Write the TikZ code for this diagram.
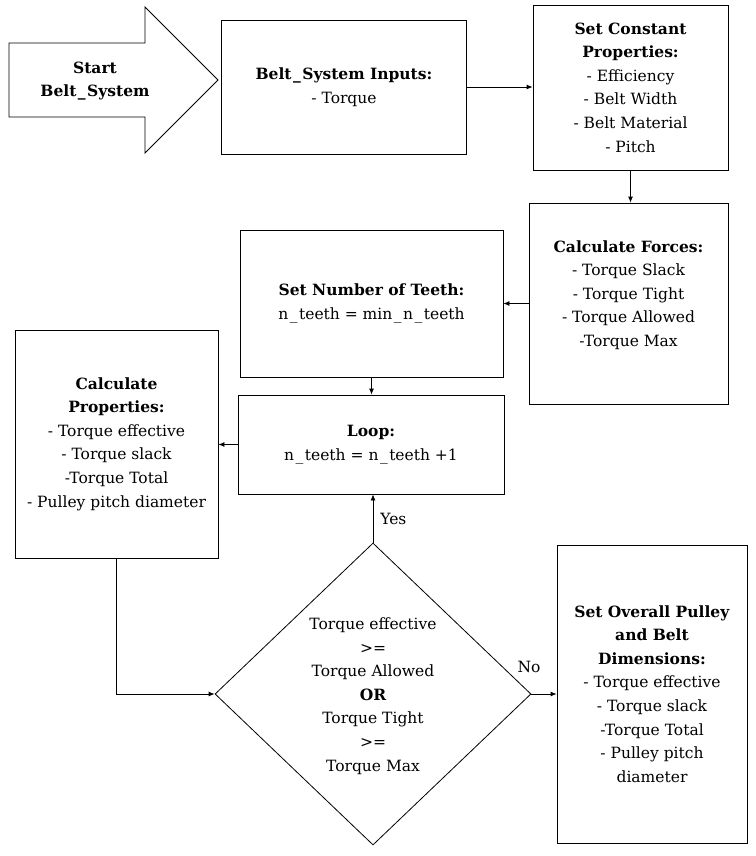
\documentclass[tikz,border=0pt]{standalone}
\usepackage{fontspec}
\setmainfont{DejaVu Serif}
\usetikzlibrary{arrows.meta,shapes.geometric}
\newcommand{\us}{\kern1.5pt\_\kern1.5pt}
\begin{document}
\begin{tikzpicture}[x=1pt,y=-1pt,
  box/.style={draw, line width=0.8pt, inner sep=0pt, align=center, font=\fontsize{15.5}{23.6}\selectfont},
  txt/.style={align=center, inner sep=0pt, font=\fontsize{15.5}{23.6}\selectfont},
  arr/.style={-{Latex[length=6pt,width=5pt]}, line width=0.8pt}]
\useasboundingbox (0,0) rectangle (755,856);
% start arrow
\draw[line width=0.8pt] (9,43) -- (145,43) -- (145,7) -- (218,80) -- (145,153) -- (145,117) -- (9,117) -- cycle;
\node[txt] (start) at (95,81) {\textbf{Start}\\\textbf{Belt\us System}};
% boxes
\node[box, minimum width=245pt, minimum height=134pt] (inputs) at (344,87) {\textbf{Belt\us System Inputs:}\\- Torque};
\node[box, minimum width=195pt, minimum height=165pt] (const) at (630.5,87.5) {\textbf{Set Constant}\\\textbf{Properties:}\\- Efficiency\\- Belt Width\\- Belt Material\\- Pitch};
\node[box, minimum width=199pt, minimum height=201pt] (forces) at (628.5,303.5) {\textbf{Calculate Forces:}\\- Torque Slack\\- Torque Tight\\- Torque Allowed\\-Torque Max\rule[-20pt]{0pt}{20pt}};
\node[box, minimum width=263pt, minimum height=147pt] (teeth) at (371.5,303.5) {\textbf{Set Number of Teeth:}\\n\us teeth = min\us n\us teeth};
\node[box, minimum width=266pt, minimum height=99pt] (loop) at (371,444.5) {\textbf{Loop:}\\n\us teeth = n\us teeth +1};
\node[box, minimum width=203pt, minimum height=228pt] (props) at (116.5,444) {\textbf{Calculate}\\\textbf{Properties:}\\- Torque effective\\- Torque slack\\-Torque Total\\- Pulley pitch diameter};
\node[draw, diamond, line width=0.8pt, inner sep=0pt, minimum width=316pt, minimum height=302pt] (dec) at (373,694) {};
\node[txt] (dectext) at (373,696) {Torque effective\\>=\\Torque Allowed\\\textbf{OR}\\Torque Tight\\>=\\Torque Max};
\node[box, minimum width=190pt, minimum height=298pt] (final) at (652,694) {\textbf{Set Overall Pulley}\\\textbf{and Belt}\\\textbf{Dimensions:}\\- Torque effective\\- Torque slack\\-Torque Total\\- Pulley pitch\\diameter};
% connectors
\draw[arr] (inputs.east) -- (const.west |- inputs.east);
\draw[arr] (const.south) -- (const.south |- forces.north);
\draw[arr] (forces.west) -- (teeth.east |- forces.west);
\draw[arr] (teeth.south) -- (teeth.south |- loop.north);
\draw[arr] (loop.west) -- (props.east |- loop.west);
\draw[arr] (props.south) |- (dec.west);
\draw[arr] (dec.north) -- (dec.north |- loop.south) node[txt, pos=0.5, anchor=west, xshift=7pt] (yes) {Yes};
\draw[arr] (dec.east) -- (final.west |- dec.east);
\node[txt] (no) at (529,667) {No};
\end{tikzpicture}
\end{document}
